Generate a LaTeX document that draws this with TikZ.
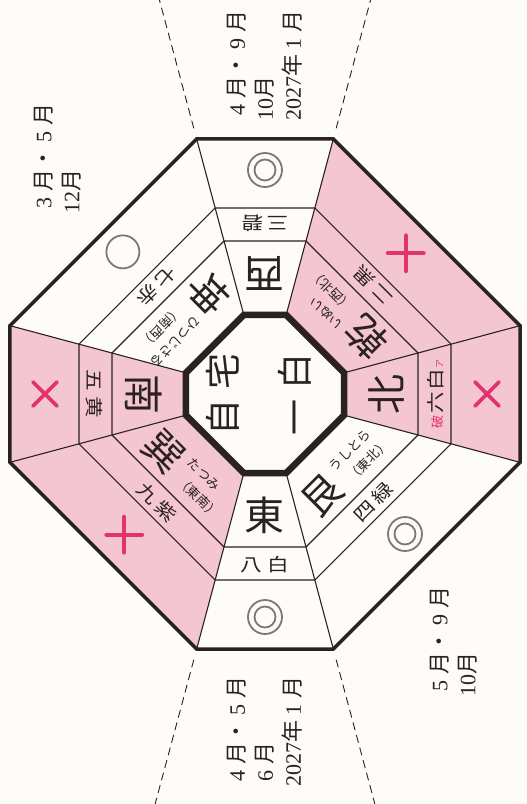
\documentclass[tikz,border=0pt]{standalone}
\usepackage{fontspec}
\setmainfont{Liberation Serif}
\newfontfamily\cjk{Noto Sans CJK JP}
\newfontfamily\cjkw[FakeStretch=1.2]{Noto Sans CJK JP}
\definecolor{pinkfill}{HTML}{F4C6D1}
\definecolor{mag}{HTML}{E2336E}
\definecolor{ink}{HTML}{2A2220}
\definecolor{cgray}{HTML}{7B7876}
\definecolor{paper}{HTML}{FDFCF8}
\newcommand\fw[1]{\makebox[1em]{\rmfamily #1}}
\newcommand\hw[1]{{\rmfamily #1}}
\begin{document}
\begin{tikzpicture}[x=1pt,y=1pt,
  bigchar/.style={font=\cjk\fontsize{40}{42}\selectfont, inner sep=0pt, text=ink},
  midlabel/.style={font=\cjkw\fontsize{18}{20}\selectfont, inner sep=0pt, text=ink},
  kana/.style={font=\cjk\fontsize{13}{20}\selectfont, inner sep=0pt, anchor=west, text=ink},
  month/.style={font=\cjk\fontsize{22}{28}\selectfont, inner sep=0pt, align=left, anchor=west, rotate=90, text=ink},
  ring/.style={draw=ink, line width=1.1pt},
  symcirc/.style={draw=cgray, line width=1.8pt, circle, inner sep=0pt},
  symcross/.style={draw=mag, line width=3.8pt, line cap=round},
  dashline/.style={draw=ink, line width=0.9pt, dash pattern=on 8pt off 5pt},
]
\def\Ro{264.0}
\def\Rm{192.6}
\def\Rn{158.4}
\def\Ri{81.8}
\useasboundingbox (-265,-410) rectangle (262,394);
\fill[paper] (-265,-410) rectangle (262,394);
% pink sectors
\fill[pinkfill] (-15:\Ro) -- (15:\Ro) -- (75:\Ro) -- (75:\Ri) -- (15:\Ri) -- (-15:\Ri) -- cycle;
\fill[pinkfill] (165:\Ro) -- (195:\Ro) -- (255:\Ro) -- (255:\Ri) -- (195:\Ri) -- (165:\Ri) -- cycle;
% rings
\foreach \r in {\Rm,\Rn}{
  \draw[ring] (-15:\r) -- (15:\r) -- (75:\r) -- (105:\r) -- (165:\r) -- (195:\r) -- (255:\r) -- (285:\r) -- cycle;
}
\foreach \a in {-15,15,75,105,165,195,255,285}{
  \draw[ring] (\a:\Ri) -- (\a:\Ro);
}
\draw[draw=ink, line width=3.5pt, line join=miter] (-15:\Ro) -- (15:\Ro) -- (75:\Ro) -- (105:\Ro) -- (165:\Ro) -- (195:\Ro) -- (255:\Ro) -- (285:\Ro) -- cycle;
\filldraw[fill=paper, draw=ink, line width=6.5pt, line join=miter] (-15:\Ri) -- (15:\Ri) -- (75:\Ri) -- (105:\Ri) -- (165:\Ri) -- (195:\Ri) -- (255:\Ri) -- (285:\Ri) -- cycle;
% dashed guides
\coordinate (d1a) at (105:275); \coordinate (d1b) at (105:420);
\coordinate (d2a) at (75:275);  \coordinate (d2b) at (75:420);
\coordinate (d3a) at (255:275); \coordinate (d3b) at (255:435);
\coordinate (d4a) at (285:275); \coordinate (d4b) at (285:435);
\draw[dashline] (d1a) -- (d1b);
\draw[dashline] (d2a) -- (d2b);
\draw[dashline] (d3a) -- (d3b);
\draw[dashline] (d4a) -- (d4b);
% centre
\node[font=\cjk\fontsize{36}{72}\selectfont, rotate=90, align=center, inner sep=0pt, text=ink] (home) at (-6,0) {自\kern10pt宅\\一\kern10pt白};
% west (top)
\begin{scope}[rotate=180, transform shape]
  \node[bigchar] (west) at (0,-121) {西};
  \node[midlabel] (westnum) at (0,-171) {三\kern4pt碧};
\end{scope}
% east (bottom)
\begin{scope}[rotate=0, transform shape]
  \node[bigchar] (east) at (0,-121) {東};
  \node[midlabel] (eastnum) at (0,-171) {八\kern6pt白};
\end{scope}
% north (right)
\begin{scope}[rotate=90, transform shape]
  \node[bigchar] (north) at (0,-121) {北};
  \node[midlabel] (northnum) at (0,-171) {{\cjk\fontsize{13}{14}\selectfont\color{mag}破}\kern2pt六\kern2pt白{\cjk\fontsize{9}{10}\selectfont\color{mag}ア}};
\end{scope}
% south (left)
\begin{scope}[rotate=-90, transform shape]
  \node[bigchar] (south) at (0,-121) {南};
  \node[midlabel] (southnum) at (0,-171) {五\kern6pt黄};
\end{scope}
% NW inui
\begin{scope}[rotate=135, transform shape]
  \node[bigchar] (inui) at (-31,-112) {乾};
  \node[kana] (inuik) at (-6,-100) {いぬい};
  \node[kana] (inuip) at (0,-120) {（西北）};
  \node[midlabel] (inuinum) at (0,-153) {二\kern4pt黒};
\end{scope}
% SW hitsujisaru
\begin{scope}[rotate=225, transform shape]
  \node[bigchar] (kon) at (-31,-112) {坤};
  \node[kana] (konk) at (-6,-100) {ひつじさる};
  \node[kana] (konp) at (0,-120) {（南西）};
  \node[midlabel] (konnum) at (0,-153) {七\kern4pt赤};
\end{scope}
% SE tatsumi
\begin{scope}[rotate=315, transform shape]
  \node[bigchar] (son) at (-31,-112) {巽};
  \node[kana] (sonk) at (-6,-100) {たつみ};
  \node[kana] (sonp) at (0,-120) {（東南）};
  \node[midlabel] (sonnum) at (0,-153) {九\kern4pt紫};
\end{scope}
% NE ushitora
\begin{scope}[rotate=45, transform shape]
  \node[bigchar] (gon) at (-31,-112) {艮};
  \node[kana] (gonk) at (-6,-100) {うしとら};
  \node[kana] (gonp) at (0,-120) {（東北）};
  \node[midlabel] (gonnum) at (0,-153) {四\kern4pt緑};
\end{scope}
% symbols
\node[symcirc, minimum size=34pt] (w1) at (90:224) {};
\node[symcirc, minimum size=21pt] (w2) at (90:224) {};
\node[symcirc, minimum size=34pt] (e1) at (270:223) {};
\node[symcirc, minimum size=21pt] (e2) at (270:223) {};
\node[symcirc, minimum size=34pt] (ne1) at (315:198) {};
\node[symcirc, minimum size=21pt] (ne2) at (315:198) {};
\node[symcirc, minimum size=33pt] (sw1) at (135:201) {};
\begin{scope}[shift={(45:199)}]
  \draw[symcross] (-18,0) -- (18,0) (0,-18) -- (0,18);
\end{scope}
\begin{scope}[shift={(225:199)}]
  \draw[symcross] (-18,0) -- (18,0) (0,-18) -- (0,18);
\end{scope}
\begin{scope}[shift={(0:222)}]
  \draw[symcross] (-12,-12) -- (12,12) (-12,12) -- (12,-12);
\end{scope}
\begin{scope}[shift={(180:220)}]
  \draw[symcross] (-12,-12) -- (12,12) (-12,12) -- (12,-12);
\end{scope}
% month labels
\node[month] (mtop) at (0,273) {\fw{4}月・\fw{9}月\\\hw{10}月\\\hw{2027}年\fw{1}月};
\node[month] (mtl) at (-207.5,180) {\fw{3}月・\fw{5}月\\\hw{12}月};
\node[month] (mbot) at (0,-393) {\fw{4}月・\fw{5}月\\\fw{6}月\\\hw{2027}年\fw{1}月};
\node[month] (mbr) at (188.5,-303) {\fw{5}月・\fw{9}月\\\hw{10}月};
\end{tikzpicture}
\end{document}
